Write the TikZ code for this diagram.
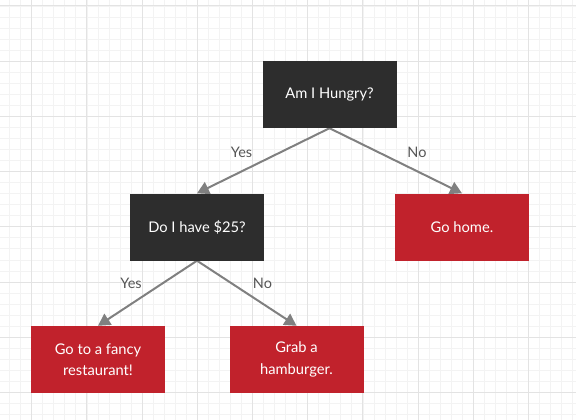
\documentclass[tikz,border=0pt]{standalone}
\usepackage{fontspec}
\setmainfont{Lato}
\usetikzlibrary{arrows.meta}
\definecolor{boxdark}{HTML}{2D2D2D}
\definecolor{boxred}{HTML}{C1222C}
\definecolor{linegray}{HTML}{808080}
\definecolor{labelgray}{HTML}{555555}
\definecolor{gridminor}{HTML}{F3F3F3}
\definecolor{gridmajor}{HTML}{E3E3E3}
\pgfdeclarelayer{bg}
\pgfsetlayers{bg,main}
\tikzset{
  box/.style={rectangle, minimum width=134pt, minimum height=67pt, inner sep=2pt,
    text=white, align=center, font=\fontsize{14.7}{21.5}\selectfont},
  darkbox/.style={box, fill=boxdark},
  redbox/.style={box, fill=boxred},
  lbl/.style={text=labelgray, font=\fontsize{14.5}{16}\selectfont, inner sep=0pt},
  conn/.style={draw=linegray, line width=2pt, -{Triangle[length=12pt,width=13pt]}},
}
\begin{document}
\begin{tikzpicture}[x=1pt,y=-1pt]
\useasboundingbox (0,0) rectangle (576,420);
\node[darkbox] (H) at (329.5,94.5) {Am I Hungry?};
\node[darkbox] (D) at (197,227) {Do I have \$25?};
\node[redbox] (G) at (462,227) {Go home.};
\node[redbox] (F) at (98,359.5) {Go to a fancy\\restaurant!};
\node[redbox] (B) at (296.5,359.5) {Grab a\\hamburger.};
\node[lbl] (l1) at (241.5,152) {Yes};
\node[lbl] (l2) at (417,152) {No};
\node[lbl] (l3) at (131,283.5) {Yes};
\node[lbl] (l4) at (262.5,283.5) {No};
\begin{pgfonlayer}{bg}
  \foreach \i in {0,...,52} {
    \draw[gridminor, line width=0.8pt] ({9.62+\i*11.04},0) -- ({9.62+\i*11.04},420);
  }
  \foreach \i in {0,...,38} {
    \draw[gridminor, line width=0.8pt] (0,{6+\i*11.04}) -- (576,{6+\i*11.04});
  }
  \foreach \i in {0,...,10} {
    \draw[gridmajor, line width=1pt] ({31.7+\i*55.2},0) -- ({31.7+\i*55.2},420);
  }
  \foreach \i in {0,...,7} {
    \draw[gridmajor, line width=1pt] (0,{6+\i*55.2}) -- (576,{6+\i*55.2});
  }
  \draw[conn] (H.south) -- (D.north);
  \draw[conn] (H.south) -- (G.north);
  \draw[conn] (D.south) -- (F.north);
  \draw[conn] (D.south) -- (B.north);
\end{pgfonlayer}
\end{tikzpicture}
\end{document}
